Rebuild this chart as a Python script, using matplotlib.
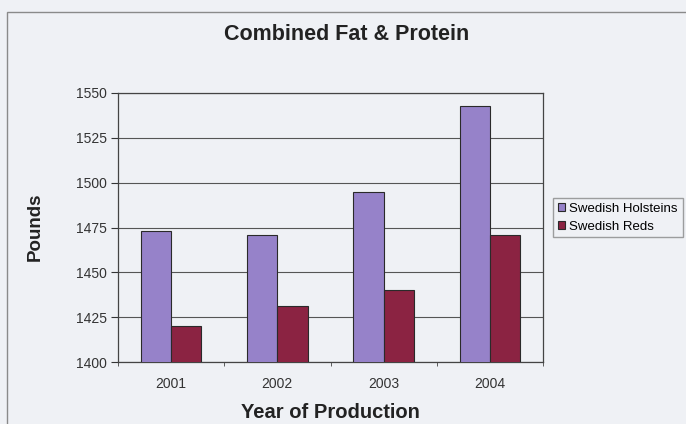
import numpy as np
import matplotlib
matplotlib.use('Agg')
import matplotlib.pyplot as plt
from matplotlib.patches import Rectangle

# 数据
years = ['2001', '2002', '2003', '2004']
holsteins = [1473, 1471, 1495, 1543]
reds = [1420, 1431, 1440, 1471]
y_ticks = [1400, 1425, 1450, 1475, 1500, 1525, 1550]

plt.rcParams['font.family'] = ['Liberation Sans', 'DejaVu Sans']

bg = '#eff1f5'
fig = plt.figure(figsize=(6.86, 4.24), dpi=100, facecolor=bg)
ax = fig.add_axes([118 / 686, 1 - 362 / 424, (543 - 118) / 686, (362 - 93) / 424])
ax.set_facecolor(bg)

# 外框
fig.patches.append(Rectangle((7 / 686, -0.05), 1.0, 1 - 12 / 424 + 0.05, transform=fig.transFigure,
                             fill=False, edgecolor='#8a8a8a', linewidth=1.0))

x = np.arange(len(years))
w = 1 / 3.5
ax.bar(x - w / 2, holsteins, width=w, color='#9682c9', edgecolor='#2a2a2a', linewidth=0.8,
       label='Swedish Holsteins', zorder=3)
ax.bar(x + w / 2, reds, width=w, color='#8b2342', edgecolor='#2a2a2a', linewidth=0.8,
       label='Swedish Reds', zorder=3)

ax.set_xlim(-0.5, len(years) - 0.5)
ax.set_ylim(1400, 1550)
ax.set_yticks(y_ticks)
ax.set_xticks(x)
ax.set_xticklabels(years)
ax.set_xticks(np.arange(len(years) + 1) - 0.5, minor=True)
ax.tick_params(axis='x', which='major', length=0, labelsize=10, colors='#333333', pad=11)
ax.tick_params(axis='x', which='minor', length=3, direction='out', color='#444444')
ax.tick_params(axis='y', length=5, direction='out', labelsize=10, colors='#333333', pad=3)
ax.grid(axis='y', color='#555555', linewidth=0.8, zorder=0)
for s in ax.spines.values():
    s.set_color('#444444')
    s.set_linewidth(0.9)

fig.text(347 / 686, 1 - 40 / 424, 'Combined Fat & Protein', ha='center', va='baseline',
         fontsize=15.5, fontweight='bold', color='#222222')
fig.text(35 / 686, 1 - 227 / 424, 'Pounds', ha='center', va='center', rotation=90,
         fontsize=13.5, fontweight='bold', color='#222222')
fig.text(330 / 686, 1 - 418 / 424, 'Year of Production', ha='center', va='baseline',
         fontsize=14.5, fontweight='bold', color='#222222')

fig.legend(loc='upper left', bbox_to_anchor=(553 / 686, 1 - 198 / 424), fontsize=9.5,
           frameon=True, fancybox=False, edgecolor='#888888', facecolor=bg,
           handlelength=0.55, handleheight=0.55, handletextpad=0.35, borderpad=0.35,
           labelspacing=0.45, borderaxespad=0)

fig.savefig('out.png', dpi=100, facecolor=bg)
